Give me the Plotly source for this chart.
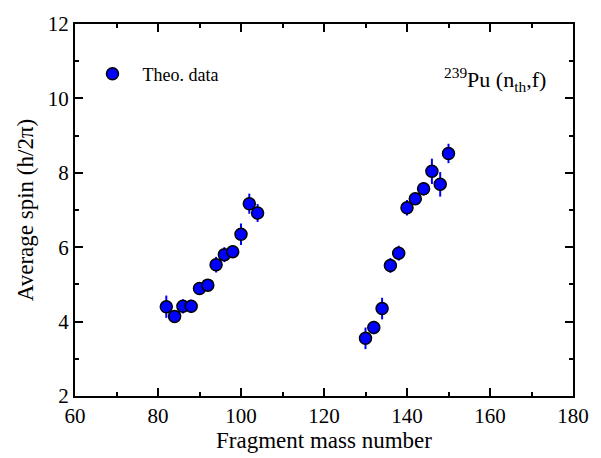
import plotly.graph_objects as go

mass = [82, 84, 86, 88, 90, 92, 94, 96, 98, 100, 102, 104,
        130, 132, 134, 136, 138, 140, 142, 144, 146, 148, 150]
spin = [4.40, 4.14, 4.41, 4.41, 4.89, 4.98, 5.53, 5.80, 5.88, 6.35, 7.17, 6.92,
        3.55, 3.84, 4.35, 5.51, 5.84, 7.06, 7.30, 7.57, 8.04, 7.69, 8.52]
err = [0.30, 0.16, 0.19, 0.18, 0.10, 0.12, 0.21, 0.20, 0.12, 0.29, 0.27, 0.24,
       0.29, 0.18, 0.29, 0.20, 0.20, 0.21, 0.12, 0.18, 0.34, 0.33, 0.26]

FONT = "Liberation Serif"

fig = go.Figure()
fig.add_trace(go.Scatter(
    x=mass, y=spin, mode="markers", name="Theo. data",
    marker=dict(size=12, color="#0000ff", line=dict(color="black", width=1.5)),
    error_y=dict(type="data", array=err, visible=True, color="#0000ff",
                 thickness=2, width=0),
))

axis_common = dict(
    showline=True, linecolor="black", linewidth=2, mirror="ticks",
    ticks="inside", ticklen=8, tickwidth=1.5, tickcolor="black",
    showgrid=False, zeroline=False,
)

fig.update_xaxes(
    range=[60, 180], dtick=20, tick0=60,
    title=dict(text="Fragment mass number", font=dict(family=FONT, size=23, color="black"), standoff=2),
    minor=dict(ticks="inside", ticklen=4, dtick=10, tick0=60, tickcolor="black", tickwidth=1.5),
    **axis_common,
)
fig.update_yaxes(
    range=[2, 12], dtick=2, tick0=2,
    title=dict(text="Average spin (h/2π)", font=dict(family=FONT, size=23, color="black"), standoff=8),
    minor=dict(ticks="inside", ticklen=4, dtick=1, tick0=2, tickcolor="black", tickwidth=1.5),
    **axis_common,
)
fig.update_xaxes(tickfont_family=FONT, tickfont_size=21, tickfont_color="black")
fig.update_yaxes(tickfont_family=FONT, tickfont_size=21, tickfont_color="black")

fig.add_annotation(
    x=0.95, y=0.85, xref="paper", yref="paper", xanchor="right", yanchor="middle",
    text="<sup>239</sup>Pu (n<sub>th</sub>,f)", showarrow=False,
    font=dict(family=FONT, size=22, color="black"),
)

fig.update_layout(
    width=601, height=458,
    margin=dict(l=75, r=25, t=20, b=62),
    paper_bgcolor="white", plot_bgcolor="white",
    font=dict(family=FONT, color="black"),
    showlegend=True,
    legend=dict(x=0.015, y=0.915, xanchor="left", yanchor="top",
                bgcolor="rgba(0,0,0,0)", itemwidth=50,
                font=dict(family=FONT, size=18, color="black")),
)

fig.write_html("out.html")
